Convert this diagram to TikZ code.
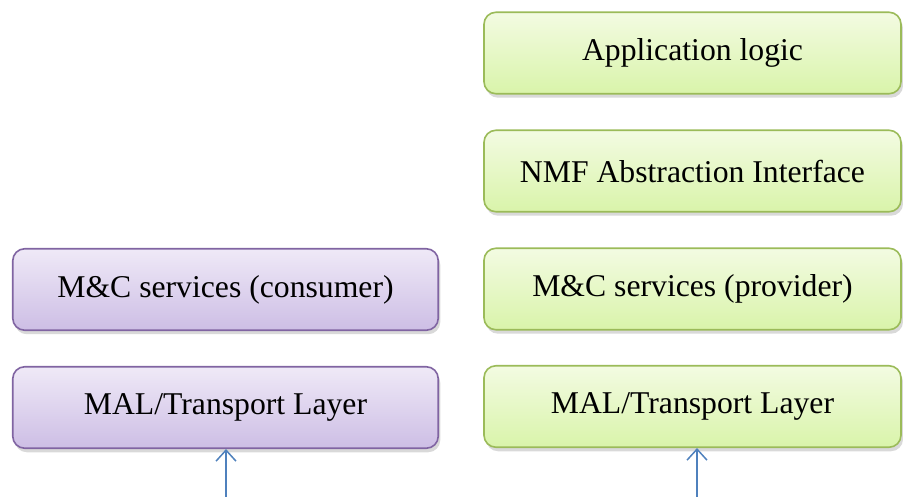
\documentclass[tikz,border=0pt]{standalone}
\usepackage{fontspec}
\setmainfont{Liberation Serif}
\usetikzlibrary{arrows.meta,shadows}
\definecolor{green_top}{RGB}{243,251,226}
\definecolor{green_bottom}{RGB}{217,244,170}
\definecolor{green_line}{RGB}{155,187,89}
\definecolor{lilac_top}{RGB}{239,233,247}
\definecolor{lilac_bottom}{RGB}{205,190,229}
\definecolor{lilac_line}{RGB}{128,100,162}
\definecolor{arrow_blue}{RGB}{79,129,189}

\tikzset{
	layer/.style={rounded corners=12pt,line width=1.6pt,minimum height=81.5pt,inner sep=0pt,
		font=\fontsize{31.7}{38}\selectfont,
		drop shadow={shadow xshift=2pt,shadow yshift=-4pt,opacity=0.3}},
	provider/.style={layer,draw=green_line,top color=green_top,bottom color=green_bottom,minimum width=417pt},
	consumer/.style={layer,draw=lilac_line,top color=lilac_top,bottom color=lilac_bottom,minimum width=425.5pt},
	incoming/.style={arrow_blue,line width=1.5pt,-{Straight Barb[length=11pt,width=20pt]}}
}

\begin{document}
\begin{tikzpicture}[x=1pt,y=-1pt]
	\useasboundingbox (0,0) rectangle (903,497);

	% provider side
	\node[provider] (app) at (692.5,53) {Application logic};
	\node[provider] (nmf) at (692.5,171) {NMF Abstraction Interface};
	\node[provider] (mcp) at (692.5,289) {M\&C services (provider)};
	\node[provider] (malp) at (692.5,406.5) {MAL/Transport Layer};

	% consumer side
	\node[consumer] (mcc) at (225.5,289.5) {M\&C services (consumer)};
	\node[consumer] (malc) at (225.5,407.5) {MAL/Transport Layer};

	\coordinate (inc) at (226,497);
	\coordinate (inp) at (697,497);

	\foreach \a/\b in {inc/malc,inp/malp}
		\draw[incoming] (\a) -- (\a |- \b.south);
\end{tikzpicture}
\end{document}
